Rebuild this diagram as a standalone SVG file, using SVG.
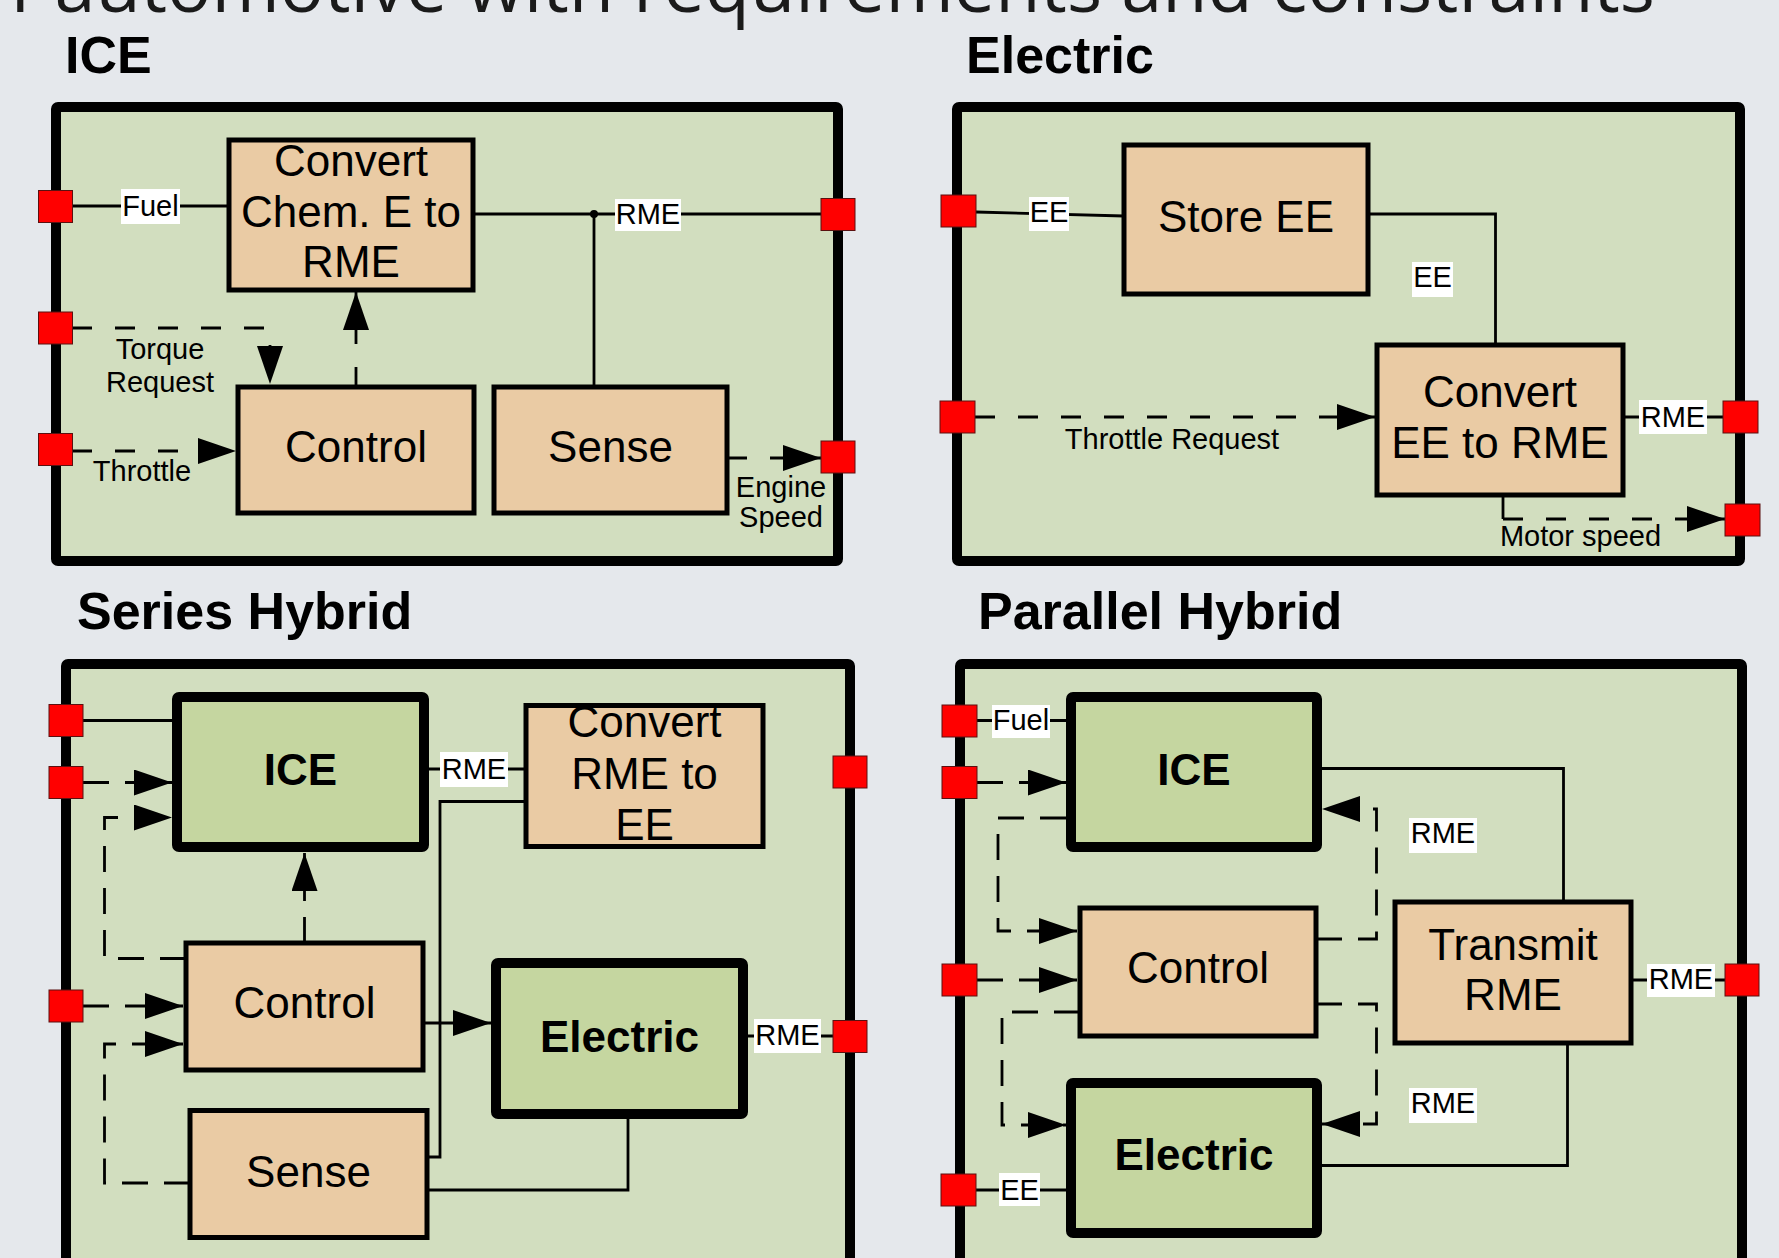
<svg xmlns="http://www.w3.org/2000/svg" width="1779" height="1258" viewBox="0 0 1779 1258">
<defs>
<style>
.bg{fill:#e5e8ec}
.panel{fill:#d2debf;stroke:#000;stroke-width:10}
.tan{fill:#eacba4;stroke:#000;stroke-width:5}
.grn{fill:#c5d6a0;stroke:#000;stroke-width:10}
.port{fill:#ff0000;stroke:#5a1010;stroke-width:1}
.ln{fill:none;stroke:#000;stroke-width:2.8}
.da{stroke-dasharray:20 23}
.db{stroke-dasharray:26 16}
.wb{fill:#fff}
text{font-family:"Liberation Sans",Arial,sans-serif;fill:#000}
.lbl{font-size:29px;text-anchor:middle}
.nt{font-size:44px;text-anchor:middle}
.bt{font-size:44px;font-weight:bold;text-anchor:middle}
.ttl{font-size:52px;font-weight:bold}
.main{font-family:"Open Sans",sans-serif;font-size:74px;fill:#1a1a1a}
</style>
<marker id="arr" markerUnits="userSpaceOnUse" markerWidth="38" markerHeight="26" refX="38" refY="13" orient="auto">
<path d="M0,0 L38,13 L0,26 z" fill="#000"/>
</marker>
</defs>
<rect class="bg" x="0" y="0" width="1779" height="1258"/>
<text class="main" x="10" y="12" textLength="1645" lengthAdjust="spacingAndGlyphs">Pautomotive with requirements and constraints</text>

<!-- panel titles -->
<text class="ttl" x="65" y="73">ICE</text>
<text class="ttl" x="966" y="73">Electric</text>
<text class="ttl" x="77" y="629">Series Hybrid</text>
<text class="ttl" x="978" y="629">Parallel Hybrid</text>

<!-- panels -->
<g id="panel-ice"><rect class="panel" x="56" y="107" width="782" height="454" rx="2"/></g>
<g id="panel-electric"><rect class="panel" x="957" y="107" width="783" height="454" rx="2"/></g>
<g id="panel-series"><rect class="panel" x="66" y="664" width="784" height="640" rx="2"/></g>
<g id="panel-parallel"><rect class="panel" x="960" y="664" width="782" height="640" rx="2"/></g>

<!-- connectors -->
<g id="connectors">
<!-- ICE panel -->
<path class="ln" d="M72,206 H229"/>
<path class="ln" d="M473,214 H821"/>
<circle cx="594" cy="214" r="4" fill="#000"/>
<path class="ln" d="M594,214 V387"/>
<path class="ln da" d="M72,328 H270 V384" marker-end="url(#arr)"/>
<path class="ln da" d="M356,387 V292" marker-end="url(#arr)"/>
<path class="ln da" d="M72,451 H236" marker-end="url(#arr)"/>
<path class="ln da" d="M727,458 H821" marker-end="url(#arr)"/>
<!-- Electric panel -->
<path class="ln" d="M976,212 L1124,216"/>
<path class="ln" d="M1368,214 H1495.5 V345"/>
<path class="ln da" d="M975,417 H1375" marker-end="url(#arr)"/>
<path class="ln" d="M1623,417 H1723"/>
<path class="ln" d="M1503,495 V519"/>
<path class="ln da" d="M1503,519 H1725" marker-end="url(#arr)"/>
<!-- Series panel -->
<path class="ln" d="M83,720.5 H177"/>
<path class="ln db" d="M83,782.5 H172" marker-end="url(#arr)"/>
<path class="ln db" d="M186,958.5 H104.5 V817.5 H172" marker-end="url(#arr)"/>
<path class="ln db" d="M304.5,943 V853" marker-end="url(#arr)"/>
<path class="ln db" d="M83,1006 H183" marker-end="url(#arr)"/>
<path class="ln db" d="M190,1183 H104.5 V1044 H183" marker-end="url(#arr)"/>
<path class="ln" d="M424,769 H526"/>
<path class="ln" d="M526,801.5 H440 V1157 H427"/>
<path class="ln" d="M423,1023 H491" marker-end="url(#arr)"/>
<path class="ln" d="M628,1114 V1190 H427"/>
<path class="ln" d="M743,1036 H833"/>
<!-- Parallel panel -->
<path class="ln" d="M977,720.5 H1071"/>
<path class="ln db" d="M977,782.5 H1066" marker-end="url(#arr)"/>
<path class="ln db" d="M1066,818 H998 V931 H1077" marker-end="url(#arr)"/>
<path class="ln db" d="M977,980 H1077" marker-end="url(#arr)"/>
<path class="ln db" d="M1080,1012 H1002 V1125 H1066" marker-end="url(#arr)"/>
<path class="ln" d="M975,1190 H1071"/>
<path class="ln db" d="M1316,939 H1376.5 V809 H1322" marker-end="url(#arr)"/>
<path class="ln db" d="M1316,1004 H1376.5 V1124 H1322" marker-end="url(#arr)"/>
<path class="ln" d="M1317,768.5 H1563.5 V902"/>
<path class="ln" d="M1567.5,1043 V1165.5 H1317"/>
<path class="ln" d="M1631,980 H1725"/>

<!-- connector labels -->
<rect class="wb" x="121" y="189" width="59" height="35"/><text class="lbl" x="150.5" y="216">Fuel</text>
<rect class="wb" x="615" y="199" width="66" height="32"/><text class="lbl" x="648" y="224">RME</text>
<text class="lbl" x="160" y="359">Torque</text>
<text class="lbl" x="160" y="392">Request</text>
<text class="lbl" x="142" y="481">Throttle</text>
<text class="lbl" x="781" y="497">Engine</text>
<text class="lbl" x="781" y="527">Speed</text>

<rect class="wb" x="1029" y="197" width="40" height="34"/><text class="lbl" x="1049" y="222">EE</text>
<rect class="wb" x="1412" y="262" width="41" height="35"/><text class="lbl" x="1432.5" y="287">EE</text>
<text class="lbl" x="1172" y="449">Throttle Request</text>
<rect class="wb" x="1639" y="400" width="68" height="34"/><text class="lbl" x="1673" y="427">RME</text>
<text class="lbl" x="1580.5" y="546">Motor speed</text>

<rect class="wb" x="440" y="752" width="68" height="35"/><text class="lbl" x="474" y="779">RME</text>
<rect class="wb" x="754" y="1019" width="67" height="34"/><text class="lbl" x="787.5" y="1045">RME</text>

<rect class="wb" x="992" y="705" width="58" height="33"/><text class="lbl" x="1021" y="730">Fuel</text>
<rect class="wb" x="999" y="1173" width="41" height="33"/><text class="lbl" x="1019.5" y="1200">EE</text>
<rect class="wb" x="1409" y="818" width="68" height="35"/><text class="lbl" x="1443" y="843">RME</text>
<rect class="wb" x="1409" y="1088" width="68" height="35"/><text class="lbl" x="1443" y="1113">RME</text>
<rect class="wb" x="1647" y="964" width="68" height="33"/><text class="lbl" x="1681" y="989">RME</text>
</g>

<!-- ICE panel nodes -->
<g id="ice-convert"><rect class="tan" x="229" y="140" width="244" height="150"/>
<text class="nt" x="351" y="176">Convert</text><text class="nt" x="351" y="227">Chem. E to</text><text class="nt" x="351" y="277">RME</text></g>
<g id="ice-control"><rect class="tan" x="238" y="387" width="236" height="126"/><text class="nt" x="356" y="462">Control</text></g>
<g id="ice-sense"><rect class="tan" x="494" y="387" width="233" height="126"/><text class="nt" x="610.5" y="462">Sense</text></g>
<g id="ice-ports">
<rect class="port" x="38.5" y="190.5" width="34" height="32"/>
<rect class="port" x="38.5" y="312" width="34" height="32"/>
<rect class="port" x="38.5" y="433.5" width="34" height="32"/>
<rect class="port" x="821" y="198.5" width="34" height="32"/>
<rect class="port" x="821" y="441" width="34" height="32"/>
</g>

<!-- Electric panel nodes -->
<g id="el-store"><rect class="tan" x="1124" y="145" width="244" height="149"/><text class="nt" x="1246" y="232">Store EE</text></g>
<g id="el-convert"><rect class="tan" x="1377" y="345" width="246" height="150"/>
<text class="nt" x="1500" y="407">Convert</text><text class="nt" x="1500" y="458">EE to RME</text></g>
<g id="el-ports">
<rect class="port" x="941" y="195" width="35" height="32"/>
<rect class="port" x="940" y="401" width="35" height="32"/>
<rect class="port" x="1723" y="401" width="35" height="32"/>
<rect class="port" x="1725" y="504" width="35" height="32"/>
</g>

<!-- Series hybrid nodes -->
<g id="sh-ice"><rect class="grn" x="177" y="697" width="247" height="150" rx="2"/><text class="bt" x="300.5" y="785">ICE</text></g>
<g id="sh-convert"><rect class="tan" x="526" y="705.5" width="237" height="141"/>
<text class="nt" x="644.5" y="737">Convert</text><text class="nt" x="644.5" y="788.5">RME to</text><text class="nt" x="644.5" y="840">EE</text></g>
<g id="sh-control"><rect class="tan" x="186" y="943" width="237" height="127"/><text class="nt" x="304.5" y="1018">Control</text></g>
<g id="sh-sense"><rect class="tan" x="190" y="1110.5" width="237" height="127"/><text class="nt" x="308.5" y="1186.5">Sense</text></g>
<g id="sh-electric"><rect class="grn" x="496" y="963" width="247" height="151" rx="2"/><text class="bt" x="619.5" y="1052">Electric</text></g>
<g id="sh-ports">
<rect class="port" x="49" y="704.5" width="34" height="32"/>
<rect class="port" x="49" y="766.5" width="34" height="32"/>
<rect class="port" x="49" y="990" width="34" height="32"/>
<rect class="port" x="833" y="756" width="34" height="32"/>
<rect class="port" x="833" y="1020.5" width="34" height="32"/>
</g>

<!-- Parallel hybrid nodes -->
<g id="ph-ice"><rect class="grn" x="1071" y="697" width="246" height="150" rx="2"/><text class="bt" x="1194" y="785">ICE</text></g>
<g id="ph-control"><rect class="tan" x="1080" y="908" width="236" height="128"/><text class="nt" x="1198" y="983">Control</text></g>
<g id="ph-electric"><rect class="grn" x="1071" y="1083" width="246" height="150" rx="2"/><text class="bt" x="1194" y="1170">Electric</text></g>
<g id="ph-transmit"><rect class="tan" x="1395" y="902" width="236" height="141"/>
<text class="nt" x="1513" y="960">Transmit</text><text class="nt" x="1513" y="1010">RME</text></g>
<g id="ph-ports">
<rect class="port" x="942" y="705" width="35" height="32"/>
<rect class="port" x="942" y="766.5" width="35" height="32"/>
<rect class="port" x="942" y="964" width="35" height="32"/>
<rect class="port" x="941" y="1174" width="35" height="32"/>
<rect class="port" x="1725" y="964" width="34" height="32"/>
</g>
</svg>
